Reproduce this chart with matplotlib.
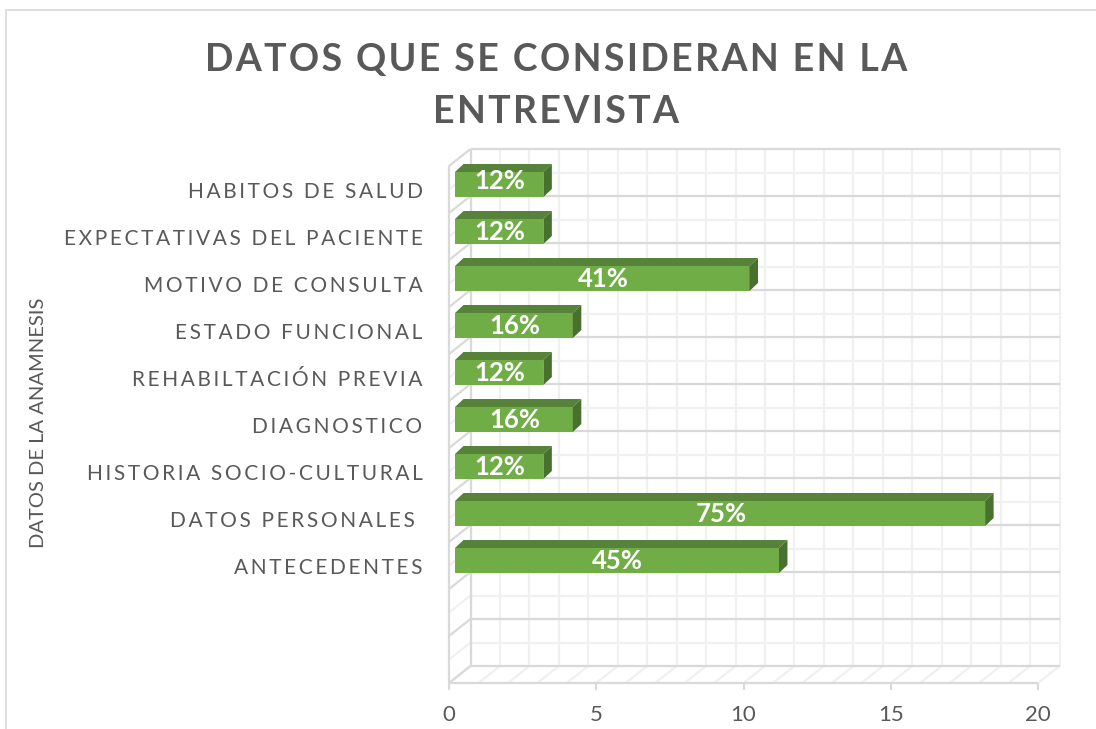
import matplotlib
matplotlib.use('Agg')
import matplotlib.pyplot as plt
from matplotlib.lines import Line2D
from matplotlib.patches import Polygon
from matplotlib.transforms import ScaledTranslation

plt.rcParams['font.family'] = ['Lato', 'DejaVu Sans']

title_lines = ['DATOS QUE SE CONSIDERAN EN LA', 'ENTREVISTA']
ylabel = 'DATOS DE LA ANAMNESIS'
# bottom to top, the two first categories are empty in the original
categories = ['', '', 'ANTECEDENTES', 'DATOS PERSONALES ', 'HISTORIA SOCIO-CULTURAL',
              'DIAGNOSTICO', 'REHABILTACIÓN PREVIA', 'ESTADO FUNCIONAL',
              'MOTIVO DE CONSULTA', 'EXPECTATIVAS DEL PACIENTE', 'HABITOS DE SALUD']
values = [0, 0, 11, 18, 3, 4, 3, 4, 10, 3, 3]
percents = ['', '', '45%', '75%', '12%', '16%', '12%', '16%', '41%', '12%', '12%']
xticks = [0, 5, 10, 15, 20]

W, H = 1096, 729
PX_X = 29.45   # pixels per unit on x
PX_Y = 47.0    # pixels per category

GREEN = '#70AD47'
GREEN_TOP = '#56823A'
GREEN_SIDE = '#48702F'
GRID_D = '#D9D9D9'
GRID_L = '#F0F0F0'
TXT = '#595959'


def track(s, sp='\u200a'):
    # no letter spacing in matplotlib, so put a narrow space between letters
    return sp.join(s)


fig = plt.figure(figsize=(W / 100, H / 100), dpi=100)
ax = fig.add_axes([449 / W, 1 - 683 / H, 589 / W, 517 / H])
ax.set_xlim(0, 20)
ax.set_ylim(0, len(categories))
ax.patch.set_visible(False)
for s in ax.spines.values():
    s.set_visible(False)

# offset of back wall and of the bars, in data units
dx, dy = 21.5 / PX_X, 17 / PX_Y
bar_dx, bar_dy = 6 / PX_X, 5 / PX_Y
top_dx, top_dy = 8.5 / PX_X, 8 / PX_Y
bar_h = 25 / PX_Y

n = len(categories)


def gl(xs, ys, c, z=1):
    ax.plot(xs, ys, color=c, lw=1.6, clip_on=False, zorder=z, solid_capstyle='butt')


# back wall + floor, vertical lines every unit
for k in range(0, 21):
    gl([k + dx, k + dx], [dy, n + dy], GRID_L)
    gl([k, k + dx], [0, dy], GRID_L)
# horizontal lines back wall + left wall
for j in range(0, 2 * n + 1):
    y = j / 2
    c = GRID_D if j % 2 == 0 else GRID_L
    z = 2 if j % 2 == 0 else 1
    gl([dx, 20 + dx], [y + dy, y + dy], c, z)
    gl([0, dx], [y, y + dy], c, z)
gl([dx, dx], [dy, n + dy], GRID_D, 2)
gl([0, 0], [0, n], GRID_D, 2)
gl([0, 20], [0, 0], GRID_D, 2)

# bars
ys = [i + 0.5 + bar_dy for i in range(n)]
ax.barh(ys, values, height=bar_h, left=bar_dx, color=GREEN, zorder=5)
for i in range(n):
    if values[i] == 0:
        continue
    x0 = bar_dx
    x1 = bar_dx + values[i]
    y0 = ys[i] - bar_h / 2
    y1 = ys[i] + bar_h / 2
    ax.add_patch(Polygon([(x0, y1), (x1, y1), (x1 + top_dx, y1 + top_dy), (x0 + top_dx, y1 + top_dy)],
                         closed=True, fc=GREEN_TOP, ec='none', zorder=5, clip_on=False))
    ax.add_patch(Polygon([(x1, y0), (x1, y1), (x1 + top_dx, y1 + top_dy), (x1 + top_dx, y0 + top_dy)],
                         closed=True, fc=GREEN_SIDE, ec='none', zorder=5, clip_on=False))
    # top label sits a bit higher than the others in the original
    nudge = 0.07 if i == n - 1 else -0.02
    ax.text((x0 + x1) / 2 + 0.03, ys[i] + nudge, percents[i], color='white', fontsize=18.5, fontweight='bold',
            ha='center', va='center', zorder=6)

ax.set_xticks(xticks)
ax.tick_params(axis='x', length=5, width=1.5, color=GRID_D, labelcolor=TXT, labelsize=16, pad=11)
ax.set_yticks([i + 0.5 for i in range(n)])
ax.set_yticklabels([track(c, '\u2009') for c in categories])
ax.tick_params(axis='y', length=0, labelcolor=TXT, labelsize=15, pad=19)
shift = ScaledTranslation(0, -0.5 / 100, fig.dpi_scale_trans)
for lab in ax.get_yticklabels():
    lab.set_transform(lab.get_transform() + shift)

fig.text(39 / W, 1 - 423 / H, ylabel, rotation=90, color=TXT, fontsize=14.5, ha='center', va='center')

fig.text(556 / W, 1 - 86 / H, track(title_lines[0]) + '\n' + track(title_lines[1]),
         color=TXT, fontsize=27, fontweight='bold', ha='center', va='center', linespacing=1.62)

# chart frame
fig.add_artist(Line2D([6 / W, 6 / W, 1], [0, 1 - 9.5 / H, 1 - 9.5 / H], color=GRID_D, lw=1.2))

fig.savefig('out.png', dpi=100)
